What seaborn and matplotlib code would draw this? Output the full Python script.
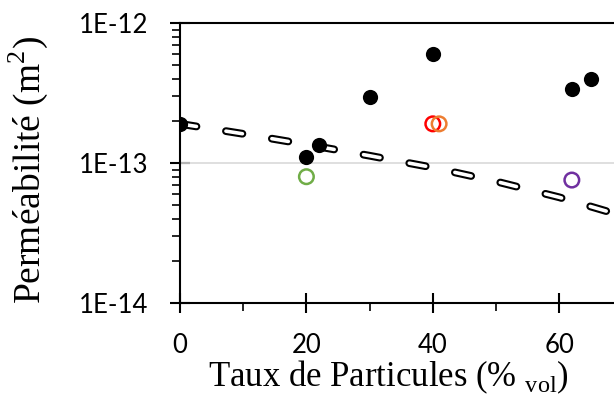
import numpy as np
import pandas as pd
import matplotlib
matplotlib.use("Agg")
import matplotlib.pyplot as plt
import seaborn as sns
from matplotlib.ticker import FixedLocator, LogLocator, NullFormatter, FixedFormatter

# ---- data ----
black_x = [0, 20, 22, 30, 40, 62, 65]
black_y = [1.91e-13, 1.11e-13, 1.35e-13, 2.99e-13, 6.0e-13, 3.37e-13, 3.98e-13]

open_x = [20, 40, 41, 62]
open_y = [8.0e-14, 1.91e-13, 1.91e-13, 7.57e-14]
open_colors = ["#70ad47", "#ff0000", "#ed7d31", "#7030a0"]

model_x = [0, 10, 20, 30, 40, 50, 60, 70]
model_y = [1.91e-13, 1.62e-13, 1.36e-13, 1.13e-13, 9.3e-14, 7.4e-14, 5.7e-14, 4.2e-14]

y_ticks = [1e-14, 1e-13, 1e-12]
y_labels = ["1E-14", "1E-13", "1E-12"]
x_ticks = [0, 20, 40, 60]

sns.set_theme(style="white")
plt.rcParams["lines.scale_dashes"] = False
plt.rcParams["text.color"] = "black"
plt.rcParams["axes.labelcolor"] = "black"
plt.rcParams["xtick.labelcolor"] = "black"
plt.rcParams["ytick.labelcolor"] = "black"

fig = plt.figure(figsize=(6.14, 3.97), dpi=100)
ax = fig.add_axes([180/614, 1-303/397, 1-180/614, (303-23.3)/397])

df_model = pd.DataFrame({"x": model_x, "y": model_y})
dash = (0, (12, 21.5))
sns.lineplot(data=df_model, x="x", y="y", ax=ax, color="black", linewidth=5.6,
             zorder=2)
sns.lineplot(data=df_model, x="x", y="y", ax=ax, color="white", linewidth=2.6,
             zorder=3)
for ln in ax.lines:
    ln.set_linestyle(dash)
    ln.set_dash_capstyle("round")

df_black = pd.DataFrame({"x": black_x, "y": black_y})
sns.scatterplot(data=df_black, x="x", y="y", ax=ax, color="black", s=120,
                edgecolor="black", linewidth=0, zorder=5)

for xx, yy, cc in zip(open_x, open_y, open_colors):
    sns.scatterplot(x=[xx], y=[yy], ax=ax, s=110, facecolor="none",
                    edgecolor=cc, linewidth=1.8, zorder=6)

ax.set_yscale("log")
ax.set_ylim(1e-14, 1e-12)
ax.set_xlim(0, (614-180)/6.32)

ax.yaxis.set_major_locator(FixedLocator(y_ticks))
ax.yaxis.set_major_formatter(FixedFormatter(y_labels))
ax.yaxis.set_minor_locator(LogLocator(base=10, subs=np.arange(2, 10)))
ax.yaxis.set_minor_formatter(NullFormatter())
ax.xaxis.set_major_locator(FixedLocator(x_ticks))
ax.xaxis.set_minor_locator(FixedLocator([10, 30, 50, 70]))

ax.grid(False)
ax.axhline(1e-13, color="#d9d9d9", linewidth=1.2, zorder=1)

for s in ["left", "bottom", "top"]:
    ax.spines[s].set_visible(True)
    ax.spines[s].set_color("black")
    ax.spines[s].set_linewidth(1.5)
ax.spines["right"].set_visible(False)

ax.tick_params(axis="both", which="major", direction="inout", length=14,
               width=1.5, color="black", labelsize=18.5, labelcolor="black")
ax.tick_params(axis="both", which="minor", direction="out", length=5.5,
               width=1.2, color="black")
ax.tick_params(axis="x", which="major", pad=14.5)
ax.tick_params(axis="y", which="major", pad=16)
ax.tick_params(axis="y", which="both", left=True)
ax.tick_params(axis="x", which="both", bottom=True)
for lab in ax.get_xticklabels() + ax.get_yticklabels():
    lab.set_fontfamily("Lato")

ax.set_xlabel("Taux de Particules (% $_{\\mathregular{vol}}$)",
              fontfamily="Liberation Serif", fontsize=25, color="black")
ax.set_ylabel("Perméabilité (m$^{\\mathregular{2}}$)",
              fontfamily="Liberation Serif", fontsize=27, color="black")
ax.xaxis.set_label_coords((388-180)/434, (303-359)/279.7)
ax.yaxis.set_label_coords((50-180)/434, (303-170)/279.7)

fig.savefig("out.png", dpi=100)
